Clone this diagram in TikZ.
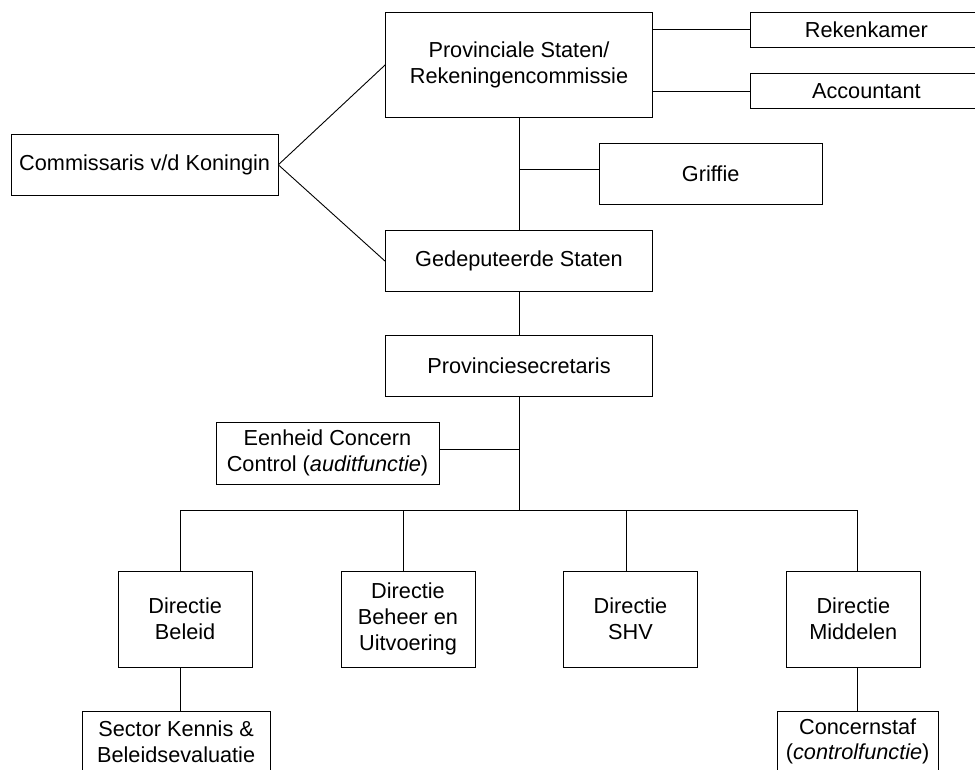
\documentclass[tikz,border=0pt]{standalone}
\usepackage{fontspec}
\setmainfont{Liberation Sans}
\begin{document}
\begin{tikzpicture}[x=1pt,y=-1pt,
  every node/.style={inner sep=0pt, outer sep=0pt},
  orgbox/.style={draw=black, line width=1pt, fill=white, align=center,
    font=\fontsize{21.7}{25.7}\selectfont},
  conn/.style={draw=black, line width=0.9pt}]
\useasboundingbox (0,0) rectangle (975,769);
\clip (0,0) rectangle (975,769);

% nodes
\node[orgbox, minimum width=267.4pt, minimum height=105pt] (ps) at (519,64.8) {Provinciale Staten/\\Rekeningencommissie};
\node[orgbox, minimum width=231.3pt, minimum height=34.3pt] (rek) at (866.35,29.85) {Rekenkamer};
\node[orgbox, minimum width=231.3pt, minimum height=34.6pt] (acc) at (866.35,91) {Accountant};
\node[orgbox, minimum width=267.3pt, minimum height=61pt] (comm) at (144.65,164.8) {Commissaris v/d Koningin};
\node[orgbox, minimum width=223.3pt, minimum height=60.7pt] (griffie) at (710.65,173.65) {Griffie};
\node[orgbox, minimum width=267.7pt, minimum height=61pt] (ged) at (519,261.2) {Gedeputeerde Staten};
\node[orgbox, minimum width=267.7pt, minimum height=61pt] (psec) at (519,366.2) {Provinciesecretaris};
\node[orgbox, minimum width=223pt, minimum height=61.7pt] (een) at (327.5,453.15) {Eenheid Concern\\Control (\textit{auditfunctie})};
\node[orgbox, minimum width=133.7pt, minimum height=96pt] (dbel) at (185.15,619) {Directie\\Beleid};
\node[orgbox, minimum width=134pt, minimum height=96pt] (dbeh) at (408,619) {Directie\\Beheer en\\Uitvoering};
\node[orgbox, minimum width=134.4pt, minimum height=96pt] (dshv) at (630.5,619) {Directie\\SHV};
\node[orgbox, minimum width=134pt, minimum height=96pt] (dmid) at (853.3,619) {Directie\\Middelen};
\node[orgbox, minimum width=187.7pt, minimum height=61pt] (sector) at (176.15,741.5) {Sector Kennis \&\\Beleidsevaluatie};
\node[orgbox, minimum width=160.7pt, minimum height=61pt] (conc) at (857.65,741.5) {Concernstaf\\(\textit{controlfunctie})};

% bus coordinates
\coordinate (b1) at (180.7,510);
\coordinate (b2) at (403.3,510);
\coordinate (b3) at (626,510);
\coordinate (b4) at (857.3,510);
\coordinate (gl) at ([yshift=4.3pt]griffie.west);
\coordinate (el) at ([yshift=3.8pt]een.east);

% connectors
\draw[conn] (ps.east |- rek.west) -- (rek.west);
\draw[conn] (ps.east |- acc.west) -- (acc.west);
\draw[conn] (comm.east) -- (ps.west);
\draw[conn] (comm.east) -- (ged.west);
\draw[conn] (ps.south) -- (ged.north);
\draw[conn] (ps.south |- gl) -- (gl);
\draw[conn] (ged.south) -- (psec.north);
\draw[conn] (psec.south) -- (psec.south |- b1);
\draw[conn] (el) -- (psec.south |- el);
\draw[conn] (b1) -- (b4);
\draw[conn] (b1) -- (b1 |- dbel.north);
\draw[conn] (b2) -- (b2 |- dbeh.north);
\draw[conn] (b3) -- (b3 |- dshv.north);
\draw[conn] (b4) -- (b4 |- dmid.north);
\draw[conn] (b1 |- dbel.south) -- (b1 |- sector.north);
\draw[conn] (b4 |- dmid.south) -- (b4 |- conc.north);
\end{tikzpicture}
\end{document}
